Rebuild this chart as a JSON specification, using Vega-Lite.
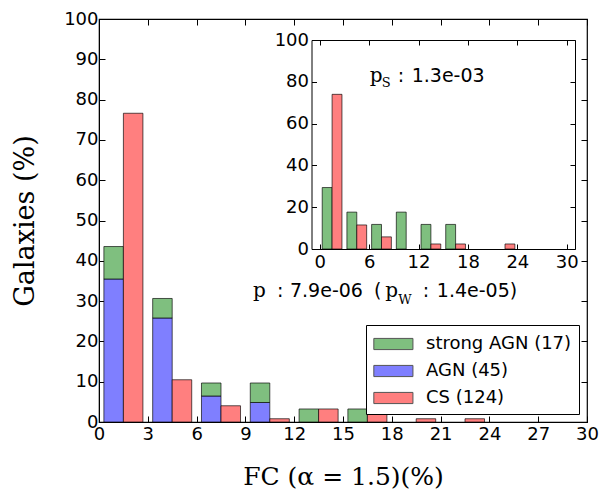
{
  "$schema": "https://vega.github.io/schema/vega-lite/v6.json",
  "width": 488,
  "height": 403,
  "autosize": {"type": "none"},
  "padding": {"left": 99, "top": 19, "right": 13, "bottom": 70},
  "background": "white",
  "config": {
    "view": {"stroke": "black", "strokeWidth": 1.2},
    "axis": {"grid": false, "domainColor": "black", "tickColor": "black", "labelColor": "black", "titleColor": "black", "labelFont": "DejaVu Sans", "labelFontSize": 18, "titleFont": "DejaVu Serif", "titleFontWeight": "normal", "labelFlush": false, "labelOverlap": false, "labelBound": false}
  },
  "datasets": {
    "main": [
      {"bin": 0, "group": "AGN (45)", "pct": 35.48},
      {"bin": 0, "group": "strong AGN (17)", "pct": 8.06},
      {"bin": 0, "group": "CS (124)", "pct": 76.61},
      {"bin": 3, "group": "AGN (45)", "pct": 25.81},
      {"bin": 3, "group": "strong AGN (17)", "pct": 4.84},
      {"bin": 3, "group": "CS (124)", "pct": 10.48},
      {"bin": 6, "group": "AGN (45)", "pct": 6.45},
      {"bin": 6, "group": "strong AGN (17)", "pct": 3.23},
      {"bin": 6, "group": "CS (124)", "pct": 4.03},
      {"bin": 9, "group": "AGN (45)", "pct": 4.84},
      {"bin": 9, "group": "strong AGN (17)", "pct": 4.84},
      {"bin": 9, "group": "CS (124)", "pct": 0.81},
      {"bin": 12, "group": "strong AGN (17)", "pct": 3.23},
      {"bin": 12, "group": "CS (124)", "pct": 3.23},
      {"bin": 15, "group": "strong AGN (17)", "pct": 3.23},
      {"bin": 15, "group": "CS (124)", "pct": 3.23},
      {"bin": 18, "group": "CS (124)", "pct": 0.81},
      {"bin": 21, "group": "CS (124)", "pct": 0.81}
    ],
    "inset": [
      {"bin": 0, "group": "strong AGN (17)", "pct": 29.41},
      {"bin": 3, "group": "strong AGN (17)", "pct": 17.65},
      {"bin": 6, "group": "strong AGN (17)", "pct": 11.76},
      {"bin": 9, "group": "strong AGN (17)", "pct": 17.65},
      {"bin": 12, "group": "strong AGN (17)", "pct": 11.76},
      {"bin": 15, "group": "strong AGN (17)", "pct": 11.76},
      {"bin": 0, "group": "CS (124)", "pct": 74.0},
      {"bin": 3, "group": "CS (124)", "pct": 11.5},
      {"bin": 6, "group": "CS (124)", "pct": 5.8},
      {"bin": 12, "group": "CS (124)", "pct": 2.4},
      {"bin": 15, "group": "CS (124)", "pct": 2.4},
      {"bin": 21, "group": "CS (124)", "pct": 2.4}
    ]
  },
  "layer": [
    {
      "layer": [
        {
          "data": {"name": "main"},
          "transform": [
            {"calculate": "datum.group == 'CS (124)' ? datum.bin + 1.5 : datum.bin + 0.3", "as": "lo"},
            {"calculate": "datum.lo + 1.2", "as": "hi"},
            {"stack": "pct", "groupby": ["lo"], "sort": [{"field": "group", "order": "ascending"}], "as": ["y0", "y1"]}
          ],
          "mark": {"type": "bar", "stroke": "black", "strokeOpacity": 0.65, "strokeWidth": 1, "opacity": 1},
          "encoding": {
            "x": {"field": "lo", "type": "quantitative", "scale": {"domain": [0, 30], "nice": false, "zero": false},
              "axis": {"orient": "bottom", "values": [0, 3, 6, 9, 12, 15, 18, 21, 24, 27, 30], "tickSize": -6, "labelPadding": 9, "title": "FC (α = 1.5)(%)", "titleFontSize": 25, "titlePadding": 21}},
            "x2": {"field": "hi"},
            "y": {"field": "y0", "type": "quantitative", "scale": {"domain": [0, 100], "nice": false},
              "axis": {"orient": "left", "values": [0, 10, 20, 30, 40, 50, 60, 70, 80, 90, 100], "tickSize": -6, "labelPadding": 7, "title": "Galaxies (%)", "titleFontSize": 27, "titlePadding": 24}},
            "y2": {"field": "y1"},
            "color": {"field": "group", "type": "nominal",
              "scale": {"domain": ["strong AGN (17)", "AGN (45)", "CS (124)"], "range": ["#7fbf7f", "#7f7fff", "#ff7f7f"]},
              "legend": {"orient": "none", "legendX": 267, "legendY": 306, "title": null, "symbolType": "M-1,-0.5H2.5V0.5H-1Z", "symbolSize": 500, "symbolStrokeColor": "#555", "symbolStrokeWidth": 1, "symbolOpacity": 1, "labelFont": "DejaVu Sans", "labelFontSize": 18, "labelOffset": 29, "rowPadding": 6, "padding": 7, "strokeColor": "black", "fillColor": "white", "labelColor": "black"}}
          }
        },
        {
          "data": {"values": [{}]},
          "mark": {"type": "point", "opacity": 0},
          "encoding": {
            "x": {"datum": 0, "type": "quantitative", "axis": {"orient": "top", "values": [0, 3, 6, 9, 12, 15, 18, 21, 24, 27, 30], "labels": false, "tickSize": -6, "title": null, "domain": false}},
            "y": {"datum": 0, "type": "quantitative", "axis": {"orient": "right", "values": [0, 10, 20, 30, 40, 50, 60, 70, 80, 90, 100], "labels": false, "tickSize": -6, "title": null, "domain": false}}
          }
        },
        {"data": {"values": [{"t": "p"}]}, "mark": {"type": "text", "font": "DejaVu Serif", "fontSize": 20, "align": "left", "baseline": "alphabetic"},
          "encoding": {"x": {"datum": 9.47, "type": "quantitative", "axis": null}, "y": {"datum": 30.94, "type": "quantitative", "axis": null}, "text": {"field": "t"}}},
        {"data": {"values": [{"t": ":"}]}, "mark": {"type": "text", "font": "DejaVu Sans", "fontSize": 19, "align": "left", "baseline": "alphabetic"},
          "encoding": {"x": {"datum": 10.94, "type": "quantitative", "axis": null}, "y": {"datum": 30.94, "type": "quantitative", "axis": null}, "text": {"field": "t"}}},
        {"data": {"values": [{"t": "7.9e-06"}]}, "mark": {"type": "text", "font": "DejaVu Sans", "fontSize": 19, "align": "left", "baseline": "alphabetic"},
          "encoding": {"x": {"datum": 11.74, "type": "quantitative", "axis": null}, "y": {"datum": 30.94, "type": "quantitative", "axis": null}, "text": {"field": "t"}}},
        {"data": {"values": [{"t": "("}]}, "mark": {"type": "text", "font": "DejaVu Sans", "fontSize": 19, "align": "left", "baseline": "alphabetic"},
          "encoding": {"x": {"datum": 16.9, "type": "quantitative", "axis": null}, "y": {"datum": 30.94, "type": "quantitative", "axis": null}, "text": {"field": "t"}}},
        {"data": {"values": [{"t": "p"}]}, "mark": {"type": "text", "font": "DejaVu Serif", "fontSize": 20, "align": "left", "baseline": "alphabetic"},
          "encoding": {"x": {"datum": 17.6, "type": "quantitative", "axis": null}, "y": {"datum": 30.94, "type": "quantitative", "axis": null}, "text": {"field": "t"}}},
        {"data": {"values": [{"t": "W"}]}, "mark": {"type": "text", "font": "DejaVu Serif", "fontSize": 13, "align": "left", "baseline": "alphabetic"},
          "encoding": {"x": {"datum": 18.4, "type": "quantitative", "axis": null}, "y": {"datum": 29.4, "type": "quantitative", "axis": null}, "text": {"field": "t"}}},
        {"data": {"values": [{"t": ":"}]}, "mark": {"type": "text", "font": "DejaVu Sans", "fontSize": 19, "align": "left", "baseline": "alphabetic"},
          "encoding": {"x": {"datum": 19.91, "type": "quantitative", "axis": null}, "y": {"datum": 30.94, "type": "quantitative", "axis": null}, "text": {"field": "t"}}},
        {"data": {"values": [{"t": "1.4e-05)"}]}, "mark": {"type": "text", "font": "DejaVu Sans", "fontSize": 19, "align": "left", "baseline": "alphabetic"},
          "encoding": {"x": {"datum": 20.77, "type": "quantitative", "axis": null}, "y": {"datum": 30.94, "type": "quantitative", "axis": null}, "text": {"field": "t"}}}
      ],
      "resolve": {"axis": {"x": "independent", "y": "independent"}}
    },
    {
      "layer": [
        {
          "data": {"name": "inset"},
          "transform": [
            {"calculate": "datum.group == 'CS (124)' ? datum.bin + 1.5 : datum.bin + 0.3", "as": "lo"},
            {"calculate": "datum.lo + 1.2", "as": "hi"}
          ],
          "mark": {"type": "bar", "stroke": "black", "strokeOpacity": 0.65, "strokeWidth": 1, "opacity": 1},
          "encoding": {
            "x": {"field": "lo", "type": "quantitative", "scale": {"domain": [-1, 31], "range": [212.5, 476], "nice": false, "zero": false},
              "axis": {"orient": "bottom", "offset": -173, "values": [0, 6, 12, 18, 24, 30], "tickSize": -5, "labelPadding": 9, "title": null}},
            "x2": {"field": "hi"},
            "y": {"field": "pct", "type": "quantitative", "stack": null, "scale": {"domain": [0, 100], "range": [230, 21], "nice": false},
              "axis": {"orient": "left", "offset": -212.5, "values": [0, 20, 40, 60, 80, 100], "tickSize": -5, "labelPadding": 8, "title": null}},
            "y2": {"datum": 0},
            "color": {"field": "group", "type": "nominal", "legend": null}
          }
        },
        {
          "data": {"values": [{}]},
          "mark": {"type": "point", "opacity": 0},
          "encoding": {
            "x": {"datum": 0, "type": "quantitative", "axis": {"orient": "top", "offset": -21, "values": [0, 6, 12, 18, 24, 30], "labels": false, "tickSize": -5, "title": null}},
            "y": {"datum": 0, "type": "quantitative", "axis": {"orient": "right", "offset": -12, "values": [0, 20, 40, 60, 80, 100], "labels": false, "tickSize": -5, "title": null}}
          }
        },
        {"data": {"values": [{"t": "p"}]}, "mark": {"type": "text", "font": "DejaVu Serif", "fontSize": 20, "align": "left", "baseline": "alphabetic"},
          "encoding": {"x": {"datum": 6.07, "type": "quantitative", "axis": null}, "y": {"datum": 80.0, "type": "quantitative", "axis": null}, "text": {"field": "t"}}},
        {"data": {"values": [{"t": "S"}]}, "mark": {"type": "text", "font": "DejaVu Serif", "fontSize": 13, "align": "left", "baseline": "alphabetic"},
          "encoding": {"x": {"datum": 7.52, "type": "quantitative", "axis": null}, "y": {"datum": 77.7, "type": "quantitative", "axis": null}, "text": {"field": "t"}}},
        {"data": {"values": [{"t": ":"}]}, "mark": {"type": "text", "font": "DejaVu Sans", "fontSize": 19, "align": "left", "baseline": "alphabetic"},
          "encoding": {"x": {"datum": 9.47, "type": "quantitative", "axis": null}, "y": {"datum": 80.0, "type": "quantitative", "axis": null}, "text": {"field": "t"}}},
        {"data": {"values": [{"t": "1.3e-03"}]}, "mark": {"type": "text", "font": "DejaVu Sans", "fontSize": 19, "align": "left", "baseline": "alphabetic"},
          "encoding": {"x": {"datum": 11.17, "type": "quantitative", "axis": null}, "y": {"datum": 80.0, "type": "quantitative", "axis": null}, "text": {"field": "t"}}}
      ],
      "resolve": {"axis": {"x": "independent", "y": "independent"}}
    }
  ],
  "resolve": {"scale": {"x": "independent", "y": "independent"}}
}
